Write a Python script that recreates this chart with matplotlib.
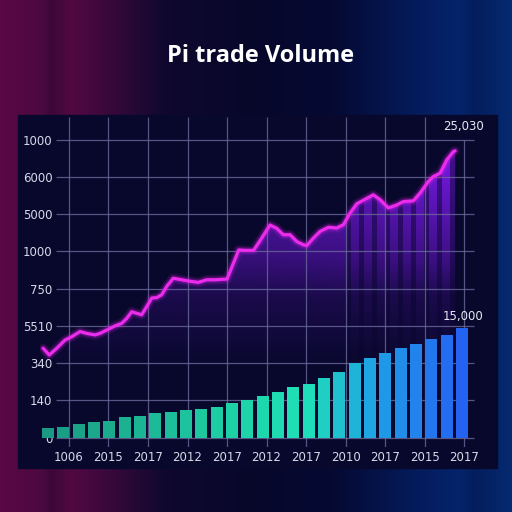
import numpy as np
import matplotlib
matplotlib.use('Agg')
import matplotlib.pyplot as plt
from matplotlib.colors import LinearSegmentedColormap
from matplotlib.patches import Rectangle

# chart data
title = 'Pi trade Volume'
x_labels = ['1006', '2015', '2017', '2012', '2017', '2012', '2017', '2010', '2017', '2015', '2017']
y_labels = ['0', '140', '340', '5510', '750', '1000', '5000', '6000', '1000']
y_grid = [0, 100, 200, 300, 400, 500, 600, 700, 800]

bar_values = [27, 30, 38, 43, 46, 56, 59, 67, 70, 73, 78, 83, 94, 102,
              113, 124, 137, 145, 161, 177, 201, 215, 228, 242, 252, 266, 277, 295]

line_x = [-0.31, 0.08, 0.57, 1.11, 1.55, 2.09, 2.52, 3.07, 3.39, 3.83, 4.37, 4.81,
          5.13, 5.46, 5.79, 6.11, 6.44, 6.77, 7.09, 7.42, 7.74, 8.17, 8.72, 9.26,
          9.80, 10.35, 10.89, 11.68, 12.01, 12.44, 12.88, 13.41, 13.94, 14.48,
          14.92, 15.35, 15.79, 16.22, 16.65, 16.88, 17.31, 17.75, 18.29, 18.83,
          19.27, 19.70, 20.14, 20.68, 21.22, 21.66, 22.20, 22.75, 23.18, 23.83,
          24.27, 24.81, 25.13, 25.57, 26.01, 26.44, 26.55]
line_y = [240, 222, 240, 262, 271, 285, 280, 276, 280, 289, 300, 307,
          320, 338, 334, 330, 352, 375, 376, 384, 406, 428, 424, 420,
          417, 424, 424, 426, 460, 504, 503, 503, 536, 571,
          562, 545, 545, 527, 518, 516, 536, 554, 565, 563,
          572, 603, 628, 640, 652, 639, 617, 625, 634, 636,
          657, 688, 701, 710, 746, 768, 770]

line_note = '25,030'
bar_note = '15,000'

fig = plt.figure(figsize=(5.12, 5.12), dpi=100)

# background: magenta-crimson on the left, navy in the middle, blue on the right
bg = fig.add_axes([0, 0, 1, 1])
bg.axis('off')
bg_cmap = LinearSegmentedColormap.from_list('bg', [
    (0.0, '#5a0845'), (0.08, '#4c0840'), (0.1, '#3c0838'), (0.14, '#520842'),
    (0.22, '#36083a'), (0.32, '#10082e'), (0.5, '#07072a'), (0.66, '#050a34'),
    (0.8, '#041a58'), (0.9, '#04246c'), (0.93, '#031e5c'), (1.0, '#062a70')])
grad = np.tile(np.linspace(0, 1, 512), (512, 1))
bg.imshow(grad, cmap=bg_cmap, aspect='auto', extent=[0, 1, 0, 1])
bg.set_xlim(0, 1)
bg.set_ylim(0, 1)

# dark panel behind the chart
bg.add_patch(Rectangle((18 / 512, 1 - 468 / 512), 479 / 512, 353 / 512,
                       color='#08082c', zorder=3))

fig.text(261 / 512, 1 - 56 / 512, title, color='white', fontsize=17,
         fontweight='bold', family='Open Sans', ha='center', va='center')

ax = fig.add_axes([40 / 512, 1 - 447 / 512, 435 / 512, 330 / 512])
ax.set_facecolor('none')
ax.set_xlim(-0.52, 27.85)
ax.set_ylim(-25, 861)
for s in ax.spines.values():
    s.set_visible(False)

grid_col = '#6a6a9c'
xt = np.linspace(1.37, 27.14, len(x_labels))
for i, x in enumerate(xt):
    top = 800 if i == len(xt) - 1 else 861
    ax.vlines(x, -25, top, color=grid_col, lw=0.9, alpha=0.8, zorder=2)
ax.hlines(y_grid, 0.52, 27.8, color=grid_col, lw=0.9, alpha=0.8, zorder=2)

# purple area under the line, gradient clipped to the area
poly = ax.fill_between(line_x, line_y, 0, color='none', lw=0)
ny, nx = 300, 300
yy, xx = np.mgrid[0:1:ny * 1j, 0:1:nx * 1j]
yv = -25 + yy * 886
upper = np.clip((yv - 380) / 380, 0, 1) ** 0.9
lower = np.clip((yv - 180) / 300, 0, 1)
img = np.zeros((ny, nx, 4))
img[..., 0] = 0.48
img[..., 1] = 0.1
img[..., 2] = 0.92
img[..., 3] = np.clip(0.25 * lower + 0.75 * upper * (0.4 + 0.6 * xx), 0, 1)
im = ax.imshow(img, origin='lower', extent=[-0.52, 27.85, -25, 861],
               aspect='auto', zorder=1)
im.set_clip_path(poly.get_paths()[0], transform=ax.transData)

# dark gaps giving the striped look under the right part of the line
gaps = ax.bar(np.arange(19.6, 26.6, 0.85), 861, width=0.3, bottom=0,
              color='#0a0630', alpha=0.5, zorder=1.5)
for g in gaps:
    g.set_clip_path(poly.get_paths()[0], transform=ax.transData)

# bars
bar_cmap = LinearSegmentedColormap.from_list('bars', [
    (0.0, '#1a9a82'), (0.45, '#1ed2a6'), (0.62, '#1fe0b8'),
    (0.8, '#1f9ee6'), (1.0, '#2462f2')])
n = len(bar_values)
colors = [bar_cmap(i / (n - 1)) for i in range(n)]
ax.bar(np.arange(n), bar_values, width=0.78, color=colors, zorder=3)

# glowing magenta line
for lw, a in [(7, 0.12), (4.5, 0.25)]:
    ax.plot(line_x, line_y, color='#e020e8', lw=lw, alpha=a, zorder=4,
            solid_capstyle='round', solid_joinstyle='round')
ax.plot(line_x, line_y, color='#ec2cec', lw=2.3, zorder=5,
        solid_capstyle='round', solid_joinstyle='round')

ax.set_xticks(xt)
ax.set_xticklabels(x_labels)
ax.set_yticks(y_grid)
ax.set_yticklabels(y_labels)
ax.tick_params(axis='x', length=0, pad=3, labelsize=8.5, labelcolor='#d8d8ea')
ax.tick_params(axis='y', length=0, pad=-9, labelsize=8.5, labelcolor='#d8d8ea')

ax.text(27.1, 835, line_note, color='#e8e8f2', fontsize=8.5, ha='center', va='center')
ax.text(27.1, 326, bar_note, color='#e8e8f2', fontsize=8.5, ha='center', va='center')

plt.savefig('out.png', dpi=100)
